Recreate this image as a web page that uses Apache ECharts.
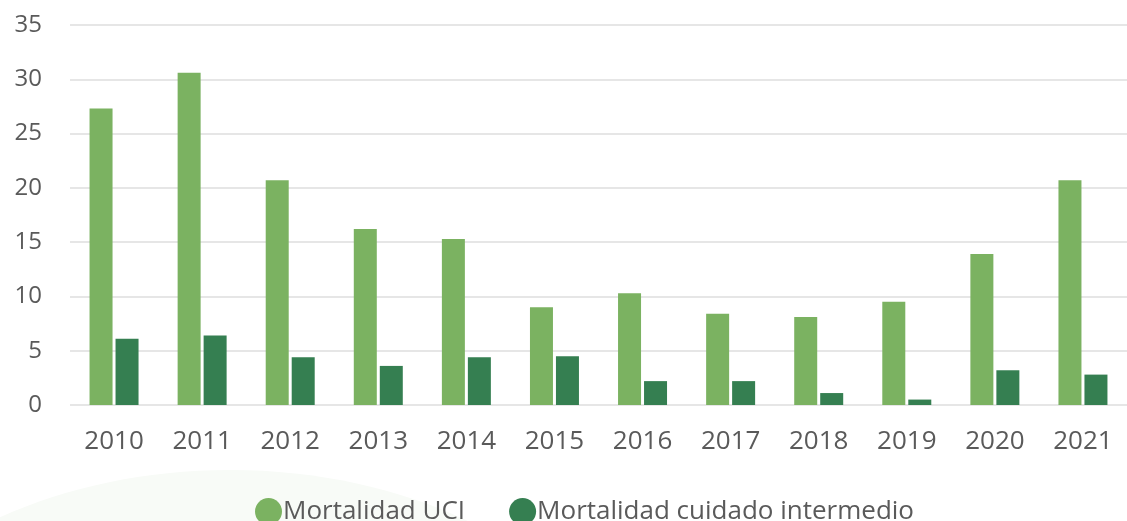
<!DOCTYPE html>
<html>
<head>
<meta charset="utf-8">
<script src="https://cdn.jsdelivr.net/npm/echarts@6/dist/echarts.min.js"></script>
<style>
    html, body { margin: 0; padding: 0; background: #fff; }
    #chart { width: 1127px; height: 521px; }
</style>
</head>
<body>
<div id="chart"></div>
<script>
// Chart data
var years = ['2010', '2011', '2012', '2013', '2014', '2015', '2016', '2017', '2018', '2019', '2020', '2021'];
var mortalidadUci = [27.3, 30.6, 20.7, 16.2, 15.3, 9.0, 10.3, 8.4, 8.1, 9.5, 13.9, 20.7];
var mortalidadIntermedio = [6.1, 6.4, 4.4, 3.6, 4.4, 4.5, 2.2, 2.2, 1.1, 0.5, 3.2, 2.8];

var fontFamily = '"Open Sans", "Noto Sans", sans-serif';

var chart = echarts.init(document.getElementById('chart'), null, { renderer: 'canvas' });

chart.setOption({
    animation: false,
    textStyle: {
        fontFamily: fontFamily
    },

    // Faint background shape, bottom left
    graphic: [{
        type: 'ellipse',
        z: -10,
        shape: { cx: 230, cy: 760, rx: 420, ry: 290 },
        style: { fill: '#f8fbf7' }
    }],

    grid: {
        left: 70,
        top: 25,
        width: 1067,
        bottom: 116
    },

    legend: {
        left: 250,
        top: 493,
        itemWidth: 27,
        itemHeight: 27,
        itemGap: 44,
        icon: 'circle',
        textStyle: {
            color: '#5a5a5a',
            fontSize: 26,
            fontFamily: fontFamily,
            padding: [0, 0, 0, -4]
        },
        data: ['Mortalidad UCI', 'Mortalidad cuidado intermedio']
    },

    xAxis: {
        type: 'category',
        data: years,
        axisLine: { show: false },
        axisTick: { show: false },
        axisLabel: {
            color: '#5a5a5a',
            fontSize: 26,
            fontFamily: fontFamily,
            margin: 24
        }
    },

    yAxis: {
        type: 'value',
        min: 0,
        max: 35,
        interval: 5,
        axisLine: { show: false },
        axisTick: { show: false },
        axisLabel: {
            color: '#5a5a5a',
            fontSize: 24,
            fontFamily: fontFamily,
            margin: 28
        },
        splitLine: {
            lineStyle: { color: '#e6e6e6', width: 2 }
        }
    },

    series: [
        {
            name: 'Mortalidad UCI',
            type: 'bar',
            barWidth: 23,
            barGap: '13%',
            itemStyle: { color: '#7bb261' },
            data: mortalidadUci
        },
        {
            name: 'Mortalidad cuidado intermedio',
            type: 'bar',
            barWidth: 23,
            itemStyle: { color: '#357f51' },
            data: mortalidadIntermedio
        }
    ]
});
</script>
</body>
</html>
